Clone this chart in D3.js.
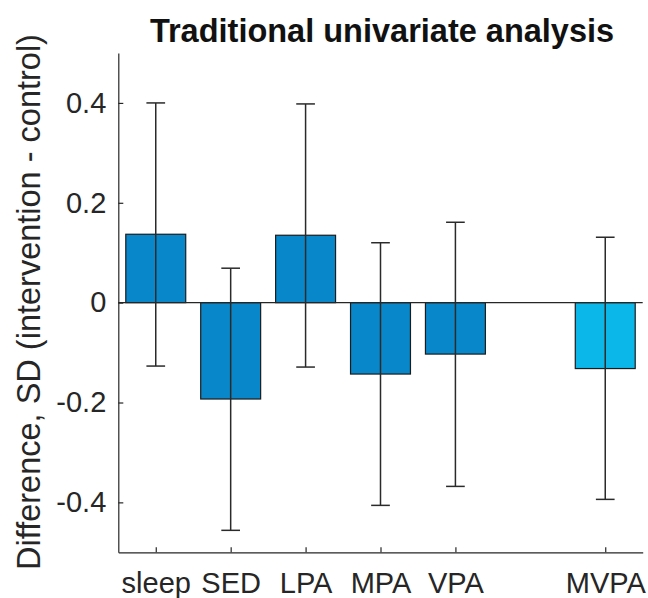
<!DOCTYPE html>
<html>
<head>
<meta charset="utf-8">
<script src="https://cdn.jsdelivr.net/npm/d3@7"></script>
<style>
  html, body { margin: 0; padding: 0; background: #fff; }
  svg { display: block; }
</style>
</head>
<body>
<svg id="chart" width="648" height="598"></svg>
<script>
// Bar chart of group differences with error bars (MATLAB-style look).

const categories = ['sleep', 'SED', 'LPA', 'MPA', 'VPA', 'MVPA'];
const xValues    = [1, 2, 3, 4, 5, 7];          // MVPA sits one slot further right
const means      = [0.137, -0.193, 0.135, -0.143, -0.103, -0.132];
const lowerCI    = [-0.127, -0.456, -0.129, -0.406, -0.368, -0.394];
const upperCI    = [0.400, 0.069, 0.398, 0.120, 0.161, 0.131];
const yTicks     = [-0.4, -0.2, 0, 0.2, 0.4];
const yTickLabels = ['-0.4', '-0.2', '0', '0.2', '0.4'];

const axisColour = '#262626';
const barColour  = '#0888CA';
const mvpaColour = '#0BB7E9';
const font = '"Liberation Sans", Arial, Helvetica, sans-serif';

const svg = d3.select('#chart');

const x = d3.scaleLinear().domain([0.5, 7.5]).range([118.3, 642.7]);
const y = d3.scaleLinear().domain([-0.5, 0.5]).range([552.3, 53]);
const barW = (x(1.8) - x(1));   // MATLAB default bar width 0.8

const rows = categories.map((c, i) => ({
  name: c, x: xValues[i], v: means[i], lo: lowerCI[i], hi: upperCI[i]
}));

// bars
svg.append('g')
  .selectAll('rect')
  .data(rows)
  .join('rect')
  .attr('x', d => x(d.x) - barW / 2)
  .attr('width', barW)
  .attr('y', d => y(Math.max(0, d.v)))
  .attr('height', d => Math.abs(y(d.v) - y(0)))
  .attr('fill', d => d.name === 'MVPA' ? mvpaColour : barColour)
  .attr('stroke', '#1c1c1c')
  .attr('stroke-width', 1.2);

// bar baseline at zero
svg.append('line')
  .attr('x1', x(0.5)).attr('x2', x(7.5))
  .attr('y1', y(0)).attr('y2', y(0))
  .attr('stroke', axisColour).attr('stroke-width', 1.2);

// error bars
const capW = 18.7;
const eb = svg.append('g')
  .attr('stroke', '#2a2a2a')
  .attr('stroke-width', 1.5)
  .selectAll('g')
  .data(rows)
  .join('g');
eb.append('line')
  .attr('x1', d => x(d.x)).attr('x2', d => x(d.x))
  .attr('y1', d => y(d.lo)).attr('y2', d => y(d.hi));
eb.append('line')
  .attr('x1', d => x(d.x) - capW / 2).attr('x2', d => x(d.x) + capW / 2)
  .attr('y1', d => y(d.hi)).attr('y2', d => y(d.hi));
eb.append('line')
  .attr('x1', d => x(d.x) - capW / 2).attr('x2', d => x(d.x) + capW / 2)
  .attr('y1', d => y(d.lo)).attr('y2', d => y(d.lo));

// axes, ticks pointing inward
const xAxis = d3.axisBottom(x)
  .tickValues(xValues)
  .tickFormat((d, i) => categories[i])
  .tickSizeInner(-5).tickSizeOuter(0).tickPadding(20);
const gx = svg.append('g')
  .attr('transform', `translate(0,${y(-0.5)})`)
  .call(xAxis);

const yAxis = d3.axisLeft(y)
  .tickValues(yTicks)
  .tickFormat((d, i) => yTickLabels[i])
  .tickSizeInner(-5).tickSizeOuter(0).tickPadding(12);
const gy = svg.append('g')
  .attr('transform', `translate(${x(0.5)},0)`)
  .call(yAxis);

for (const g of [gx, gy]) {
  g.select('.domain').attr('stroke', axisColour).attr('stroke-width', 1.2);
  g.selectAll('.tick line').attr('stroke', axisColour).attr('stroke-width', 1.2);
  g.selectAll('.tick text')
    .attr('fill', axisColour)
    .attr('font-family', font)
    .attr('font-size', 29);
}

// title
svg.append('text')
  .attr('x', 382).attr('y', 42)
  .attr('text-anchor', 'middle')
  .attr('font-family', font)
  .attr('font-weight', 'bold')
  .attr('font-size', 32.5)
  .attr('fill', '#111')
  .text('Traditional univariate analysis');

// y label
svg.append('text')
  .attr('transform', 'translate(40,302) rotate(-90)')
  .attr('text-anchor', 'middle')
  .attr('font-family', font)
  .attr('font-size', 32.5)
  .attr('fill', axisColour)
  .text('Difference, SD (intervention - control)');
</script>
</body>
</html>
